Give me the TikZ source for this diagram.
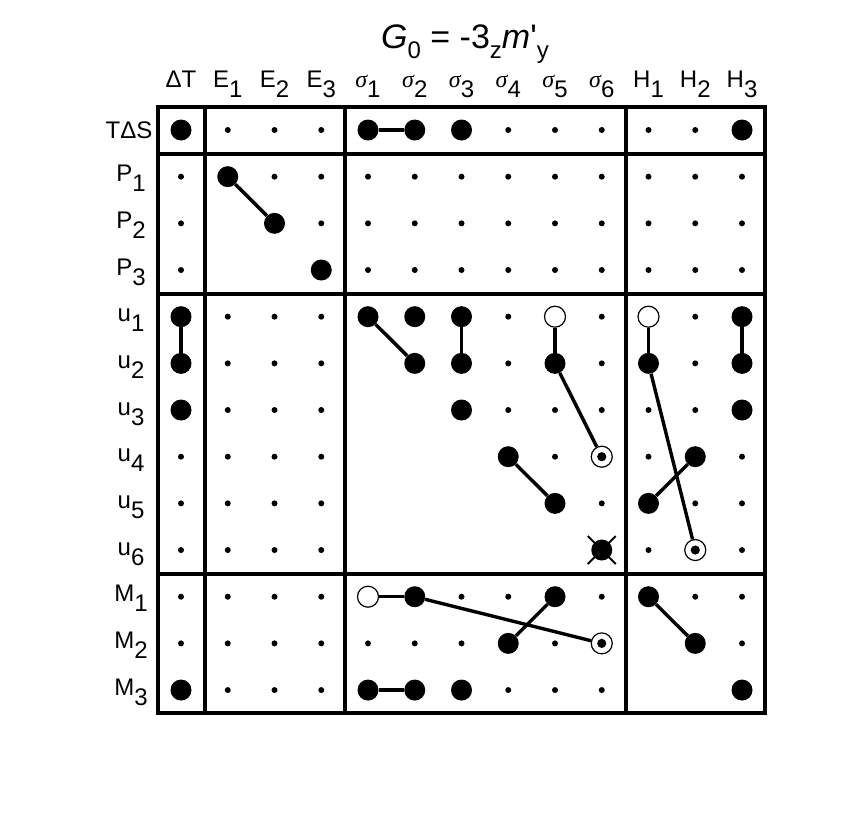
\documentclass[tikz,border=0pt]{standalone}
\usepackage{fontspec}
\setmainfont{Liberation Sans}
\newfontfamily\grk{Liberation Serif}
\newcommand\lsub[1]{\raisebox{-10pt}{#1}}
\newcommand\sig[1]{{\grk\itshape σ}\lsub{#1}}
\newcommand\bigf{\fontsize{34}{38}\selectfont}
\newcommand\smallf{\fontsize{24}{28}\selectfont}
\tikzset{
  ms/.style={circle,fill=black,inner sep=0pt,minimum size=6pt},
  mb/.style={circle,fill=black,inner sep=0pt,minimum size=21pt},
  mx/.style={circle,fill=black,inner sep=0pt,minimum size=21pt},
  mo/.style={circle,draw=black,fill=white,line width=1.2pt,inner sep=0pt,minimum size=21pt},
  mc/.style={circle,draw=black,fill=white,line width=1.2pt,inner sep=0pt,minimum size=21pt,
     path picture={\fill[black] (path picture bounding box.center) circle[radius=4.6pt];}},
  mn/.style={shape=coordinate},
  link/.style={line width=3.4pt},
  frame/.style={line width=4pt},
  lab/.style={font=\smallf,anchor=base,inner sep=0pt},
}
\begin{document}
\begin{tikzpicture}[x=1pt,y=-1pt]
\useasboundingbox (0,0) rectangle (856,812);
% frame
\draw[frame] (158,107) rectangle (765,713);
\draw[frame] (204.5,107) -- (204.5,713);
\draw[frame] (345,107) -- (345,713);
\draw[frame] (625.5,107) -- (625.5,713);
\draw[frame] (158,153.5) -- (765,153.5);
\draw[frame] (158,294) -- (765,294);
\draw[frame] (158,573.5) -- (765,573.5);
% markers
\foreach \r/\row in {
 0/{b,s,s,s,b,b,b,s,s,s,s,s,b},
 1/{s,b,s,s,s,s,s,s,s,s,s,s,s},
 2/{s,n,b,s,s,s,s,s,s,s,s,s,s},
 3/{s,n,n,b,s,s,s,s,s,s,s,s,s},
 4/{b,s,s,s,b,b,b,s,o,s,o,s,b},
 5/{b,s,s,s,n,b,b,s,b,s,b,s,b},
 6/{b,s,s,s,n,n,b,s,s,s,s,s,b},
 7/{s,s,s,s,n,n,n,b,s,c,s,b,s},
 8/{s,s,s,s,n,n,n,n,b,s,b,s,s},
 9/{s,s,s,s,n,n,n,n,n,x,s,c,s},
 10/{s,s,s,s,o,b,s,s,b,s,b,s,s},
 11/{s,s,s,s,s,s,s,b,s,c,n,b,s},
 12/{b,s,s,s,b,b,b,s,s,s,n,n,b}}{
  \foreach \t [count=\c from 0] in \row {
    \node[m\t] (n\r-\c) at ({181+46.75*\c},{130+46.67*\r}) {};
  }
}
% X mark
\draw[line width=2pt] ([shift={(-14,-14)}]n9-9.center) -- ([shift={(14,14)}]n9-9.center);
\draw[line width=2pt] ([shift={(-14,14)}]n9-9.center) -- ([shift={(14,-14)}]n9-9.center);
% connectors
\draw[link] (n4-0) -- (n5-0);
\draw[link] (n1-1) -- (n2-2);
\draw[link] (n0-4) -- (n0-5);
\draw[link] (n4-4) -- (n5-5);
\draw[link] (n4-6) -- (n5-6);
\draw[link] (n4-8) -- (n5-8);
\draw[link] (n5-8) -- (n7-9);
\draw[link] (n7-7) -- (n8-8);
\draw[link] (n4-10) -- (n5-10);
\draw[link] (n5-10) -- (n9-11);
\draw[link] (n8-10) -- (n7-11);
\draw[link] (n4-12) -- (n5-12);
\draw[link] (n10-4) -- (n10-5);
\draw[link] (n10-5) -- (n11-9);
\draw[link] (n11-7) -- (n10-8);
\draw[link] (n10-10) -- (n11-11);
\draw[link] (n12-4) -- (n12-5);
% column labels
\foreach \c/\txt in {0/{ΔT},1/{E\lsub{1}},2/{E\lsub{2}},3/{E\lsub{3}},
  4/{\sig{1}},5/{\sig{2}},6/{\sig{3}},7/{\sig{4}},8/{\sig{5}},9/{\sig{6}},
  10/{H\lsub{1}},11/{H\lsub{2}},12/{H\lsub{3}}}{
  \node[lab] (c\c) at ({181+46.75*\c},87) {\txt};
}
% row labels
\node[lab] (r0) at (129,138) {TΔS};
\foreach \r/\txt in {1/{P\lsub{1}},2/{P\lsub{2}},3/{P\lsub{3}},
  4/{u\lsub{1}},5/{u\lsub{2}},6/{u\lsub{3}},7/{u\lsub{4}},8/{u\lsub{5}},9/{u\lsub{6}},
  10/{M\lsub{1}},11/{M\lsub{2}},12/{M\lsub{3}}}{
  \node[lab] (r\r) at (131,{130+46.67*\r+5}) {\txt};
}
% title
\node[anchor=base,inner sep=0pt,font=\bigf] (title) at (465,48)
 {\itshape G\upshape\smallf\raisebox{-10pt}{0}\bigf{} = -3\smallf\raisebox{-10pt}{z}\bigf\itshape m\upshape\textquotesingle\smallf\raisebox{-10pt}{y}};
\end{tikzpicture}
\end{document}
